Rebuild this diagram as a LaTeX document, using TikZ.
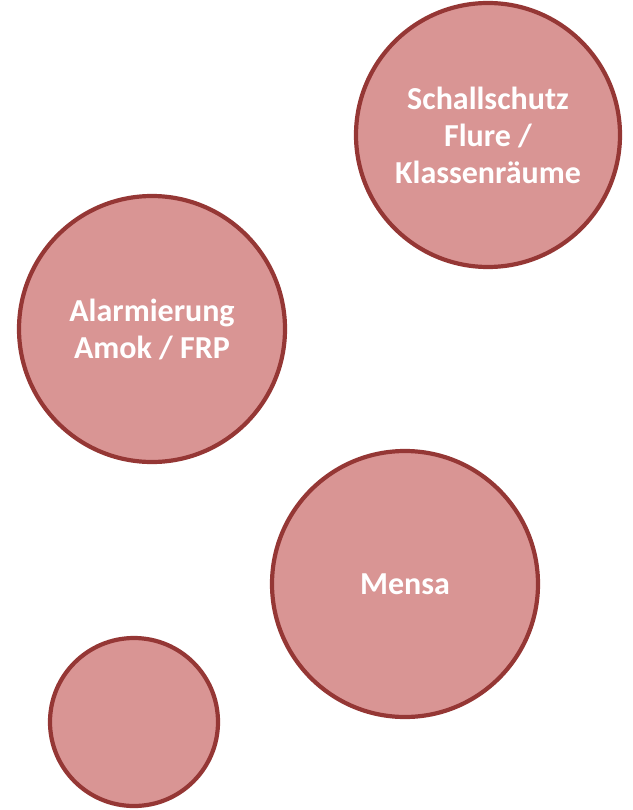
\documentclass[tikz,border=0pt]{standalone}
\usepackage{fontspec}
\setmainfont{Carlito}
\begin{document}
\begin{tikzpicture}[x=1pt,y=-1pt,
  bubble/.style={circle, draw=bubbleline, fill=bubblefill, line width=4.2pt,
    inner sep=0pt, align=center, text=white, font=\bfseries\fontsize{32}{37}\selectfont}]
\definecolor{bubblefill}{HTML}{D99594}
\definecolor{bubbleline}{HTML}{953735}
\useasboundingbox (0,0) rectangle (632,810);
\node[bubble, minimum size=264pt] (schall) at (488,135) {Schallschutz\\Flure /\\Klassenräume};
\node[bubble, minimum size=266pt] (alarm) at (152,329) {Alarmierung\\Amok / FRP};
\node[bubble, minimum size=266pt] (mensa) at (405,584) {Mensa};
\node[bubble, minimum size=168pt] (leer) at (134,722) {};
\end{tikzpicture}
\end{document}
